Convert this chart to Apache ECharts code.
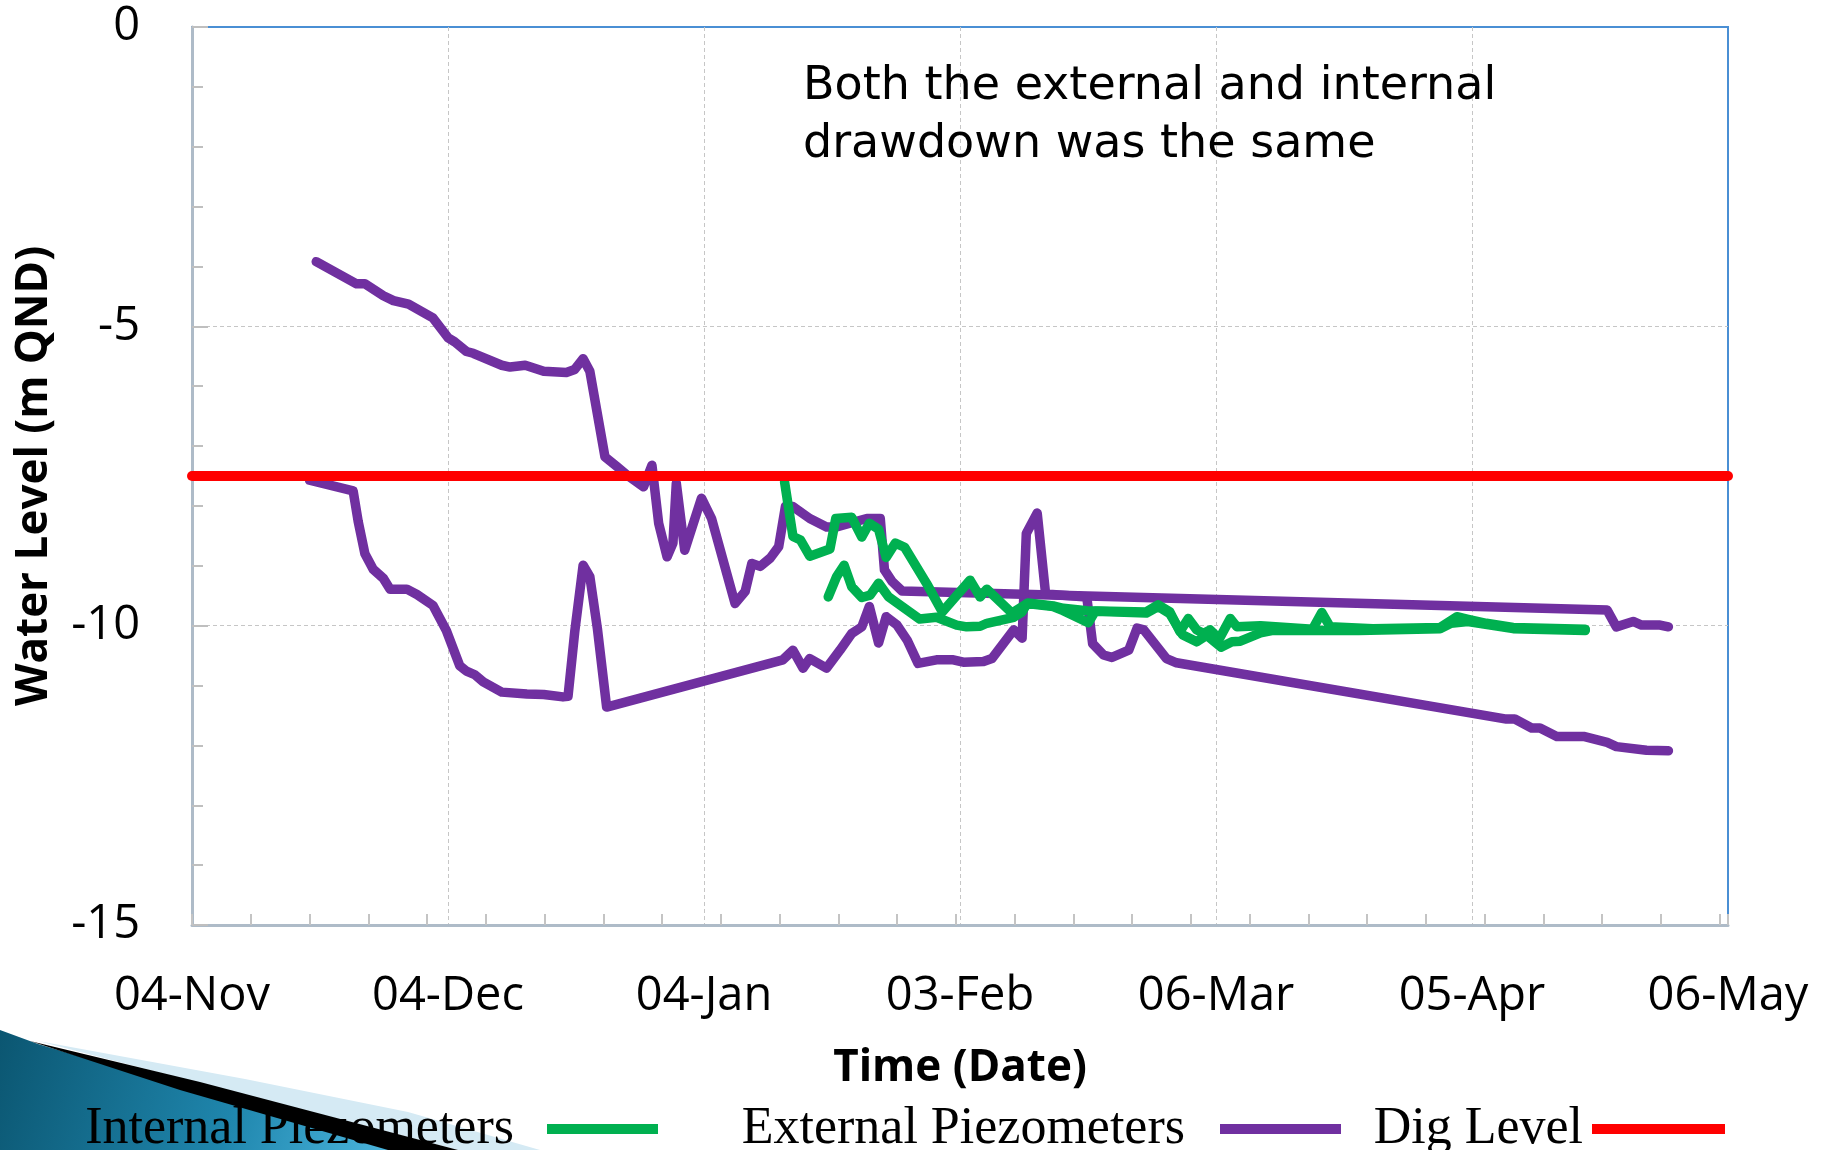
<!DOCTYPE html>
<html>
<head>
<meta charset="utf-8">
<title>Water Level</title>
<script src="https://cdn.jsdelivr.net/npm/echarts@6/dist/echarts.min.js"></script>
<style>
  html, body { margin: 0; padding: 0; background: #fff; }
  #chart { width: 1825px; height: 1150px; }
</style>
</head>
<body>
<div id="chart"></div>
<script>
// x = days since 04-Nov, y = water level (m QND)
const xTickLabels = ["04-Nov", "04-Dec", "04-Jan", "03-Feb", "06-Mar", "05-Apr", "06-May"];
const X_MAJOR = 30.5;
const X_MAX = 183;

const internal1 = [
  [70.6, -7.6], [71.6, -8.51], [72.5, -8.57], [73.6, -8.84], [76.0, -8.72], [76.7, -8.21],
  [78.6, -8.19], [79.8, -8.52], [80.7, -8.29], [81.8, -8.39], [82.7, -8.86], [83.8, -8.62],
  [84.9, -8.69], [87.5, -9.29], [89.4, -9.77], [92.7, -9.24], [93.9, -9.52], [94.7, -9.39],
  [97.7, -9.79], [99.6, -9.62], [102.6, -9.67], [103.8, -9.71], [106.6, -9.75], [113.7, -9.77],
  [115.1, -9.65], [116.5, -9.77], [117.7, -10.1], [118.7, -9.88], [119.7, -10.07], [120.5, -10.13],
  [121.3, -10.07], [122.4, -10.22], [123.7, -9.88], [124.5, -10.02], [127.3, -10.0], [133.5, -10.06],
  [134.6, -9.78], [135.6, -10.02], [140.7, -10.05], [148.7, -10.03], [150.7, -9.85], [151.9, -9.89],
  [154.2, -9.96], [157.4, -10.03], [166.0, -10.06]
];

const internal2 = [
  [75.8, -9.52], [76.8, -9.18], [77.7, -8.99], [78.6, -9.35], [79.8, -9.53], [80.8, -9.49],
  [81.8, -9.29], [83.0, -9.52], [85.7, -9.79], [86.7, -9.89], [88.7, -9.86], [91.1, -9.99],
  [92.3, -10.02], [93.9, -10.01], [94.7, -9.96], [97.9, -9.86], [98.9, -9.77], [99.5, -9.63],
  [102.6, -9.68], [103.8, -9.75], [106.8, -9.95], [107.6, -9.76], [113.7, -9.79], [115.1, -9.68],
  [116.5, -9.8], [118.0, -10.15], [119.7, -10.27], [120.9, -10.16], [122.6, -10.36], [123.9, -10.27],
  [124.9, -10.26], [127.3, -10.12], [128.8, -10.08], [133.5, -10.08], [139.0, -10.08], [148.7, -10.05],
  [150.0, -9.96], [152.0, -9.93], [157.4, -10.05], [166.0, -10.08]
];

const external1 = [
  [14.8, -3.92], [19.6, -4.29], [20.6, -4.29], [22.8, -4.49], [24.0, -4.57], [25.8, -4.63],
  [28.7, -4.86], [30.5, -5.19], [31.3, -5.26], [32.7, -5.42], [33.5, -5.45], [36.9, -5.65],
  [37.9, -5.68], [39.7, -5.65], [41.9, -5.75], [44.6, -5.77], [45.6, -5.72], [46.6, -5.54],
  [47.4, -5.75], [49.2, -7.18], [50.6, -7.34], [51.8, -7.48], [53.8, -7.68], [54.8, -7.32],
  [55.6, -8.29], [56.6, -8.85], [57.3, -8.62], [57.7, -7.62], [58.7, -8.74], [60.7, -7.87],
  [61.9, -8.21], [64.7, -9.63], [65.9, -9.43], [66.7, -8.96], [67.7, -9.01], [68.9, -8.87],
  [69.9, -8.68], [70.7, -8.01], [71.6, -8.01], [73.6, -8.21], [75.6, -8.35], [76.8, -8.35],
  [80.4, -8.21], [82.0, -8.21], [82.5, -9.07], [83.4, -9.26], [84.6, -9.42], [168.6, -9.74],
  [169.7, -10.02], [171.7, -9.93], [172.7, -9.99], [174.9, -9.99], [175.9, -10.02]
];

const external2 = [
  [14.0, -7.57], [19.2, -7.75], [19.8, -8.26], [20.6, -8.8], [21.6, -9.06], [22.8, -9.21],
  [23.6, -9.39], [25.6, -9.39], [26.8, -9.48], [28.7, -9.66], [30.3, -10.08], [31.9, -10.67],
  [32.7, -10.76], [33.7, -10.82], [34.7, -10.94], [36.9, -11.11], [39.9, -11.14], [41.9, -11.15],
  [44.2, -11.19], [44.8, -11.18], [45.6, -10.1], [46.6, -8.99], [47.4, -9.18], [48.3, -10.05],
  [49.4, -11.36], [70.4, -10.57], [71.6, -10.41], [72.8, -10.71], [73.6, -10.55], [75.6, -10.71],
  [77.2, -10.41], [78.6, -10.13], [79.8, -10.02], [80.7, -9.68], [81.8, -10.29], [82.7, -9.85],
  [84.0, -9.99], [85.2, -10.24], [86.5, -10.63], [88.7, -10.57], [90.7, -10.57], [91.9, -10.61],
  [94.3, -10.6], [95.3, -10.55], [97.9, -10.07], [98.9, -10.21], [99.4, -8.46], [100.7, -8.12],
  [101.7, -9.47], [106.6, -9.52], [107.3, -10.3], [108.6, -10.49], [109.6, -10.53], [111.6, -10.41],
  [112.6, -10.04], [113.4, -10.07], [116.1, -10.55], [117.3, -10.62], [156.6, -11.56], [157.6, -11.56],
  [159.6, -11.71], [160.6, -11.71], [162.6, -11.85], [165.8, -11.85], [168.6, -11.95], [169.7, -12.02],
  [173.3, -12.08], [175.9, -12.09]
];

const digLevel = [[0, -7.5], [183, -7.5]];

const GREEN = "#00b050";
const PURPLE = "#7030a0";
const RED = "#ff0000";
const GRID_GRAY = "#c6c6c6";
const AXIS_GRAY = "#aebbc8";

const chart = echarts.init(document.getElementById("chart"));

function lineSeries(name, data, color, width) {
  return {
    name: name,
    type: "line",
    data: data,
    symbol: "none",
    color: color,
    lineStyle: { color: color, width: width, cap: "round", join: "round" },
    itemStyle: { color: color },
    silent: true,
  };
}

function legendItem(name, right, iconWidth, gap) {
  return {
    data: [name],
    right: right,
    top: 1099,
    orient: "horizontal",
    align: "right",
    icon: "rect",
    itemWidth: iconWidth,
    itemHeight: 10,
    padding: 0,
    selectedMode: false,
    textStyle: {
      fontFamily: "Liberation Serif",
      fontSize: 52,
      color: "#000",
      lineHeight: 60,
      padding: [0, gap - 5, 0, 0],
    },
  };
}

const option = {
  animation: false,
  backgroundColor: "#fff",
  title: {
    text: "Both the external and internal\ndrawdown was the same",
    left: 803,
    top: 58,
    padding: 0,
    textStyle: {
      fontFamily: "DejaVu Sans",
      fontWeight: "normal",
      fontSize: 46,
      lineHeight: 58,
      color: "#000",
    },
  },
  grid: {
    left: 192,
    right: 97,
    top: 27,
    bottom: 225,
    show: true,
    borderColor: "#4a8fd4",
    borderWidth: 2,
  },
  xAxis: [
    {
      type: "value",
      min: 0,
      max: X_MAX,
      interval: X_MAJOR,
      position: "bottom",
      axisLine: { show: true, onZero: false, lineStyle: { color: AXIS_GRAY, width: 3 } },
      axisTick: { show: false },
      splitLine: {
        show: true,
        showMinLine: false,
        showMaxLine: false,
        lineStyle: { color: GRID_GRAY, width: 1, type: [4, 3] },
      },
      axisLabel: {
        margin: 48,
        fontFamily: "Open Sans",
        fontSize: 47,
        color: "#000",
        formatter: (v) => xTickLabels[Math.round(v / X_MAJOR)],
      },
      name: "Time (Date)",
      nameLocation: "middle",
      nameGap: 121,
      nameTextStyle: { fontFamily: "Open Sans", fontWeight: "bold", fontSize: 44, color: "#000" },
    },
    {
      // weekly minor ticks
      type: "value",
      min: 0,
      max: X_MAX,
      interval: 7,
      position: "bottom",
      axisLine: { show: false, onZero: false },
      axisTick: { show: true, inside: true, length: 11, lineStyle: { color: "#c4c4c4", width: 2 } },
      axisLabel: { show: false },
      splitLine: { show: false },
    },
  ],
  yAxis: {
    type: "value",
    min: -15,
    max: 0,
    interval: 5,
    axisLine: { show: true, onZero: false, lineStyle: { color: AXIS_GRAY, width: 3 } },
    axisTick: { show: true, inside: true, length: 16, lineStyle: { color: "#bfbfbf", width: 2 } },
    minorTick: { show: true, splitNumber: 5, length: 11, lineStyle: { color: "#bfbfbf", width: 2 } },
    splitLine: {
      show: true,
      showMinLine: false,
      showMaxLine: false,
      lineStyle: { color: GRID_GRAY, width: 1, type: [4, 3] },
    },
    axisLabel: { margin: 52, fontFamily: "Open Sans", fontSize: 47, color: "#000" },
    name: "Water Level (m QND)",
    nameLocation: "middle",
    nameGap: 136,
    nameRotate: 90,
    nameTextStyle: { fontFamily: "Open Sans", fontWeight: "bold", fontSize: 44, color: "#000" },
  },
  legend: [
    legendItem("Internal Piezometers", 1167, 111, 33),
    legendItem("External Piezometers", 484, 121, 35),
    legendItem("Dig Level", 100, 133, 9),
  ],
  graphic: [
    {
      type: "polygon",
      z: -10,
      silent: true,
      shape: { points: [[0, 1030], [38, 1044], [392, 1150], [0, 1150]] },
      style: {
        fill: new echarts.graphic.LinearGradient(0, 0, 1, 1, [
          { offset: 0, color: "#0b5671" },
          { offset: 0.6, color: "#1f86ad" },
          { offset: 1, color: "#4cb6de" },
        ]),
      },
    },
    {
      type: "polygon",
      z: -10,
      silent: true,
      shape: { points: [[38, 1041], [245, 1079], [408, 1112], [540, 1150], [458, 1150]] },
      style: { fill: "#d5eaf4" },
    },
    {
      type: "polygon",
      z: -9,
      silent: true,
      shape: { points: [[30, 1041], [200, 1082], [458, 1150], [388, 1150], [180, 1090]] },
      style: { fill: "#000" },
    },
  ],
  series: [
    lineSeries("External Piezometers", external1, PURPLE, 9.5),
    lineSeries("External Piezometers", external2, PURPLE, 9.5),
    lineSeries("Internal Piezometers", internal1, GREEN, 9.5),
    lineSeries("Internal Piezometers", internal2, GREEN, 9.5),
    lineSeries("Dig Level", digLevel, RED, 10),
  ],
};

chart.setOption(option);
window.addEventListener("resize", () => chart.resize());
</script>
</body>
</html>
